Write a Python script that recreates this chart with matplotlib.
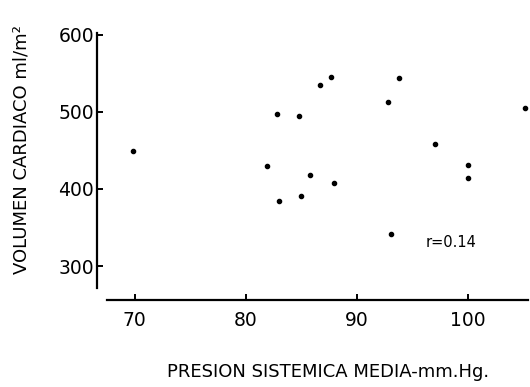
import numpy as np
import matplotlib
matplotlib.use('Agg')
import matplotlib.pyplot as plt

# datos
presion = [69.8, 81.9, 82.8, 83.0, 84.8, 85.0, 85.8, 86.7, 87.7, 87.9,
           92.8, 93.1, 93.8, 97.0, 100.0, 100.0, 105.1]
volumen = [449, 430, 497, 384, 495, 391, 418, 534, 545, 407,
           512, 342, 544, 458, 431, 414, 505]
xticks = [70, 80, 90, 100]
yticks = [300, 400, 500, 600]
r_text = "r=0.14"

plt.rcParams['font.family'] = ['DejaVu Sans']

fig = plt.figure(figsize=(5.3, 3.87), dpi=100)
ax = fig.add_axes([97 / 530, 1 - 300 / 387, 431 / 530, 267 / 387])

ax.plot(presion, volumen, 'o', color='black', markersize=3.0, linestyle='none')

ax.set_xlim(66.6, 105.4)
ax.set_ylim(256, 602)
ax.set_xticks(xticks)
ax.set_yticks(yticks)

for side in ['top', 'right']:
    ax.spines[side].set_visible(False)
ax.spines['left'].set_bounds(271, 602)
ax.spines['bottom'].set_bounds(67.5, 105.4)
for side in ['left', 'bottom']:
    ax.spines[side].set_linewidth(1.6)

ax.tick_params(direction='in', length=4, width=1.4, labelsize=13.5, pad=2)
ax.tick_params(axis='x', pad=8)

ax.text(96.2, 330, r_text, fontsize=10.5, va='center', ha='left')

fig.text(22 / 530, 1 - 150 / 387, "VOLUMEN CARDIACO ml/m²", rotation=90,
         ha='center', va='center', fontsize=13)
fig.text(328 / 530, 1 - 372 / 387, "PRESION SISTEMICA MEDIA-mm.Hg.",
         ha='center', va='center', fontsize=13)

fig.savefig('out.png', dpi=100)
plt.close(fig)
